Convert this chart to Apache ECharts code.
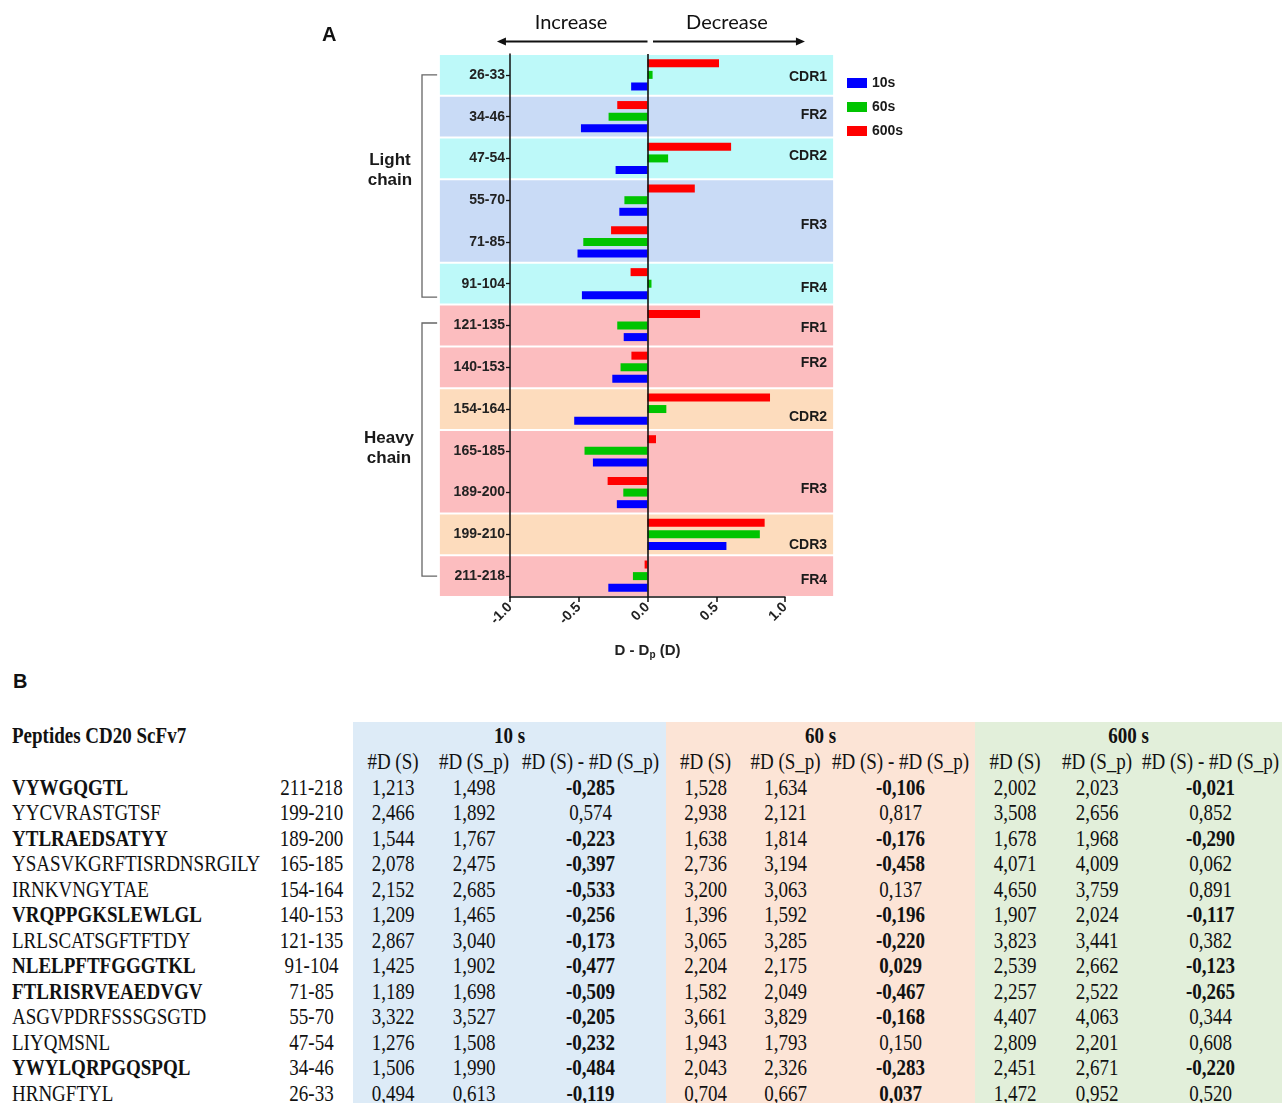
<!DOCTYPE html>
<html>
<head>
<meta charset="utf-8">
<script src="https://cdn.jsdelivr.net/npm/echarts@6/dist/echarts.min.js"></script>
<style>
html,body{margin:0;padding:0;background:#fff;width:1282px;height:1103px;overflow:hidden;}
#chart{position:absolute;left:0;top:0;width:1282px;height:670px;}
#labelB{position:absolute;left:13px;top:670px;font:bold 20px "Liberation Sans",Arial,sans-serif;color:#111;}
#tbl{position:absolute;left:0;top:722px;border-collapse:collapse;table-layout:fixed;width:1282px;
  font-family:"Liberation Serif","Times New Roman",serif;font-size:19px;color:#111;}
#tbl td{padding:0;white-space:nowrap;text-align:center;overflow:visible;line-height:19px;}
#tbl td span{display:inline-block;transform:scaleY(1.2);}
#tbl tr.h1 td{height:27px;}
#tbl tr.h2 td{height:25.5px;}
#tbl tr.d td{height:25.5px;}
#tbl td.name{text-align:left;padding-left:12px;}
.b{font-weight:bold;}
.c10{background:#ddebf7;} .c60{background:#fce4d6;} .c600{background:#e2efda;}
</style>
</head>
<body>
<div id="chart"></div>
<div id="labelB">B</div>
<table id="tbl"></table>
<script>
// ---------------- data (table order; index 0 = bottom category of chart) ----------------
const ranges = ['211-218','199-210','189-200','165-185','154-164','140-153','121-135','91-104','71-85','55-70','47-54','34-46','26-33'];
const peptides = ['VYWGQGTL','YYCVRASTGTSF','YTLRAEDSATYY','YSASVKGRFTISRDNSRGILY','IRNKVNGYTAE','VRQPPGKSLEWLGL','LRLSCATSGFTFTDY','NLELPFTFGGGTKL','FTLRISRVEAEDVGV','ASGVPDRFSSSGSGTD','LIYQMSNL','YWYLQRPGQSPQL','HRNGFTYL'];
const dS_10   = [1.213,2.466,1.544,2.078,2.152,1.209,2.867,1.425,1.189,3.322,1.276,1.506,0.494];
const dSp_10  = [1.498,1.892,1.767,2.475,2.685,1.465,3.040,1.902,1.698,3.527,1.508,1.990,0.613];
const diff_10 = [-0.285,0.574,-0.223,-0.397,-0.533,-0.256,-0.173,-0.477,-0.509,-0.205,-0.232,-0.484,-0.119];
const dS_60   = [1.528,2.938,1.638,2.736,3.200,1.396,3.065,2.204,1.582,3.661,1.943,2.043,0.704];
const dSp_60  = [1.634,2.121,1.814,3.194,3.063,1.592,3.285,2.175,2.049,3.829,1.793,2.326,0.667];
const diff_60 = [-0.106,0.817,-0.176,-0.458,0.137,-0.196,-0.220,0.029,-0.467,-0.168,0.150,-0.283,0.037];
const dS_600   = [2.002,3.508,1.678,4.071,4.650,1.907,3.823,2.539,2.257,4.407,2.809,2.451,1.472];
const dSp_600  = [2.023,2.656,1.968,4.009,3.759,2.024,3.441,2.662,2.522,4.063,2.201,2.671,0.952];
const diff_600 = [-0.021,0.852,-0.290,0.062,0.891,-0.117,0.382,-0.123,-0.265,0.344,0.608,-0.220,0.520];
const seriesNames = ['10s','60s','600s'];
const timeHeaders = ['10 s','60 s','600 s'];
const subHeaders = ['#D (S)','#D (S_p)','#D (S) - #D (S_p)'];
const xTicks = [-1.0,-0.5,0.0,0.5,1.0];
const regionNames = ['FR4','CDR3','FR3','CDR2','FR2','FR1','FR4','FR3','CDR2','FR2','CDR1'];
const regionFrom  = [0,1,2,4,5,6,7,8,10,11,12];
const regionTo    = [0,1,3,4,5,6,7,9,10,11,12];
const regionKind  = ['pink','peach','pink','peach','pink','pink','cyan','blue','cyan','blue','cyan'];
const chainNames = ['Light\nchain','Heavy\nchain'];

// ---------------- styling / annotation layout ----------------
const FONT = '"Liberation Sans", Arial, sans-serif';
const seriesColors = {'10s':'#0000ff','60s':'#00c400','600s':'#ff0000'};
const regionColors = {cyan:'#bdf9f9', blue:'#c9dbf6', pink:'#fcbdbf', peach:'#fddcbd'};
const regionLabelAt = [-0.09,0.75,2.09,3.81,5.10,5.94,6.9,8.41,10.06,11.04,11.95];
const bandX = [-1.51,1.35];
const chainLayout = [
  {top:12.0, bottom:6.68, labelX:-1.873, labelY:9.72},
  {top:6.06, bottom:0.0,  labelX:-1.88,  labelY:3.05}
];
const bracketX = [-1.64,-1.53];

const chart = echarts.init(document.getElementById('chart'), null, {renderer:'canvas'});

function bandsRender(params, api){
  const i = api.value(2);
  const yTop = api.coord([0, regionTo[i] + 0.5])[1] + 1;
  const yBot = api.coord([0, regionFrom[i] - 0.5])[1] - 1;
  const xL = api.coord([bandX[0], 0])[0];
  const xR = api.coord([bandX[1], 0])[0];
  const ly = api.coord([0, regionLabelAt[i]])[1];
  return {type:'group', children:[
    {type:'rect', shape:{x:xL, y:yTop, width:xR-xL, height:yBot-yTop}, style:{fill:regionColors[regionKind[i]]}},
    {type:'text', x:xR-6, y:ly, style:{text:regionNames[i], align:'right', verticalAlign:'middle',
      fontSize:14, fontWeight:'bold', fontFamily:FONT, fill:'#1a1a1a'}}
  ]};
}

function chainRender(params, api){
  const i = api.value(2);
  const c = chainLayout[i];
  const x0 = api.coord([bracketX[0], 0])[0], x1 = api.coord([bracketX[1], 0])[0];
  const yT = api.coord([0, c.top])[1], yB = api.coord([0, c.bottom])[1];
  const lp = api.coord([c.labelX, c.labelY]);
  return {type:'group', children:[
    {type:'polyline', shape:{points:[[x1,yT],[x0,yT],[x0,yB],[x1,yB]]}, style:{stroke:'#666', lineWidth:1.3, fill:null}},
    {type:'text', x:lp[0], y:lp[1], style:{text:chainNames[i], align:'center', verticalAlign:'middle',
      fontSize:17, fontWeight:'bold', fontFamily:FONT, fill:'#1a1a1a', lineHeight:20}}
  ]};
}

const arrowLayout = {y:12.8, textY:13.25, left:[0,-1.095], right:[0.04,1.145], incX:-0.556, decX:0.578};
const arrowTexts = ['Increase','Decrease'];
function arrowRender(params, api){
  const a = arrowLayout;
  const y = api.coord([0, a.y])[1];
  const ty = api.coord([0, a.textY])[1];
  const l0 = api.coord([a.left[0],0])[0], l1 = api.coord([a.left[1],0])[0];
  const r0 = api.coord([a.right[0],0])[0], r1 = api.coord([a.right[1],0])[0];
  const head = 9, hw = 4;
  return {type:'group', children:[
    {type:'line', shape:{x1:l0, y1:y, x2:l1+head-1, y2:y}, style:{stroke:'#111', lineWidth:2}},
    {type:'polygon', shape:{points:[[l1,y],[l1+head,y-hw],[l1+head,y+hw]]}, style:{fill:'#111'}},
    {type:'line', shape:{x1:r0, y1:y, x2:r1-head+1, y2:y}, style:{stroke:'#111', lineWidth:2}},
    {type:'polygon', shape:{points:[[r1,y],[r1-head,y-hw],[r1-head,y+hw]]}, style:{fill:'#111'}},
    {type:'text', x:api.coord([a.incX,0])[0], y:ty, style:{text:arrowTexts[0], align:'center', verticalAlign:'middle', fontSize:20, fontFamily:'Lato, "Open Sans", sans-serif', fill:'#111'}},
    {type:'text', x:api.coord([a.decX,0])[0], y:ty, style:{text:arrowTexts[1], align:'center', verticalAlign:'middle', fontSize:20, fontFamily:'Lato, "Open Sans", sans-serif', fill:'#111'}}
  ]};
}

const diffs = {'10s':diff_10,'60s':diff_60,'600s':diff_600};
// within each category the first series sits on top: 600s on top, 10s at the bottom
const barOrder = ['600s','60s','10s'];
const barSeries = barOrder.map((n, k) => ({
  name:n, type:'bar', data:diffs[n], barWidth:8, barGap:'45%', z:3,
  itemStyle:{color:seriesColors[n]}, silent:true, animation:false,
  markLine: k===0 ? {symbol:'none', silent:true, label:{show:false},
    lineStyle:{color:'#111', width:1.6, type:'solid'}, data:[{xAxis:0}], animation:false} : undefined
}));

const option = {
  animation:false,
  textStyle:{fontFamily:FONT},
  grid:{left:510, right:497, top:54, bottom:73, containLabel:false},
  legend:{orient:'vertical', left:842, top:71, itemWidth:20, itemHeight:10, itemGap:10, icon:'rect',
    data:seriesNames, textStyle:{fontSize:14, fontWeight:'bold', color:'#1a1a1a', fontFamily:FONT}},
  graphic:[{type:'text', left:322, top:25, style:{text:'A', fontSize:20, fontWeight:'bold', fontFamily:FONT, fill:'#111'}}],
  xAxis:{type:'value', min:-1, max:1, interval:0.5, position:'bottom',
    axisLine:{show:true, onZero:false, lineStyle:{color:'#111', width:1.5}},
    axisTick:{show:true, length:5, lineStyle:{color:'#111', width:1.5}},
    splitLine:{show:false},
    axisLabel:{rotate:45, margin:8, fontSize:14, fontWeight:'bold', color:'#222', fontFamily:FONT,
      formatter:v => { const t = xTicks.find(x => Math.abs(x-v) < 1e-9); return t === undefined ? '' : t.toFixed(1); }},
    name:'{b|D - D}{s|p}{b| (D)}', nameLocation:'middle', nameGap:44,
    nameTextStyle:{rich:{b:{fontSize:15, fontWeight:'bold', color:'#222', fontFamily:FONT},
      s:{fontSize:10, fontWeight:'bold', color:'#222', fontFamily:FONT, padding:[9,0,0,0]}}}
  },
  yAxis:[
    {type:'category', data:ranges,
      axisLine:{show:true, onZero:false, lineStyle:{color:'#111', width:1.5}},
      axisTick:{show:true, alignWithLabel:true, length:4, lineStyle:{color:'#111', width:1.3}},
      axisLabel:{fontSize:14, fontWeight:'bold', color:'#222', margin:5, fontFamily:FONT}},
    {type:'value', min:-0.5, max:12.5, show:false}
  ],
  series:[
    {type:'custom', name:'bands', yAxisIndex:1, z:0, silent:true, clip:false,
      data:regionNames.map((n,i)=>[0, regionFrom[i], i]), encode:{x:0, y:1},
      renderItem:bandsRender},
    {type:'custom', name:'chains', yAxisIndex:1, z:1, silent:true, clip:false,
      data:chainNames.map((n,i)=>[0, 0, i]), encode:{x:0, y:1}, renderItem:chainRender},
    {type:'custom', name:'arrows', yAxisIndex:1, z:1, silent:true, clip:false,
      data:[[0,0,0]], encode:{x:0, y:1}, renderItem:arrowRender},
    ...barSeries
  ]
};
chart.setOption(option);

// ---------------- table B ----------------
function fmt(v){ return (v < 0 ? '-' : '') + Math.abs(v).toFixed(3).replace('.', ','); }
function isBold(v){ return v < 0.04; }
const blocks = [
  {cls:'c10', S:dS_10, Sp:dSp_10, D:diff_10},
  {cls:'c60', S:dS_60, Sp:dSp_60, D:diff_60},
  {cls:'c600', S:dS_600, Sp:dSp_600, D:diff_600}
];
const colW = [270,83,80,82,151,79,81,149,80,84,143];
let html = '<colgroup>' + colW.map(w => `<col style="width:${w}px">`).join('') + '</colgroup>';
html += '<tr class="h1"><td class="name b"><span>Peptides CD20 ScFv7</span></td><td></td>' +
  blocks.map((b,k) => `<td colspan="3" class="${b.cls} b"><span>${timeHeaders[k]}</span></td>`).join('') + '</tr>';
html += '<tr class="h2"><td></td><td></td>' +
  blocks.map(b => subHeaders.map(h => `<td class="${b.cls}"><span>${h}</span></td>`).join('')).join('') + '</tr>';
for (let i = 0; i < peptides.length; i++){
  const allBold = blocks.every(b => isBold(b.D[i]));
  html += `<tr class="d"><td class="name${allBold ? ' b' : ''}"><span>${peptides[i]}</span></td><td><span>${ranges[i]}</span></td>`;
  blocks.forEach(b => {
    html += `<td class="${b.cls}"><span>${fmt(b.S[i])}</span></td>`;
    html += `<td class="${b.cls}"><span>${fmt(b.Sp[i])}</span></td>`;
    html += `<td class="${b.cls}${isBold(b.D[i]) ? ' b' : ''}"><span>${fmt(b.D[i])}</span></td>`;
  });
  html += '</tr>';
}
document.getElementById('tbl').innerHTML = html;
</script>
</body>
</html>
